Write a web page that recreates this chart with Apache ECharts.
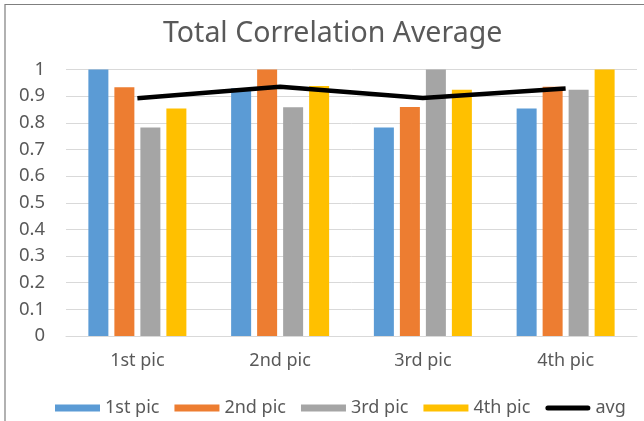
<!DOCTYPE html>
<html>
<head>
<meta charset="utf-8">
<script src="https://cdn.jsdelivr.net/npm/echarts@6/dist/echarts.min.js"></script>
<style>html,body{margin:0;padding:0;background:#fff;}#c{width:644px;height:421px;}</style>
</head>
<body>
<div id="c"></div>
<script>
const categories = ['1st pic', '2nd pic', '3rd pic', '4th pic'];
const pic1 = [1.0, 0.93, 0.782, 0.854];
const pic2 = [0.933, 1.0, 0.859, 0.935];
const pic3 = [0.782, 0.858, 1.0, 0.924];
const pic4 = [0.854, 0.938, 0.924, 1.0];
const avg = [0.892, 0.935, 0.893, 0.929];
const yTicks = [0, 0.1, 0.2, 0.3, 0.4, 0.5, 0.6, 0.7, 0.8, 0.9, 1];

const font = 'Noto Sans';
const txt = '#595959';
const chart = echarts.init(document.getElementById('c'));
const barSeries = (name, data, color) => ({
  name, type: 'bar', data, barWidth: 20, barGap: '30%',
  itemStyle: { color }
});
chart.setOption({
  animation: false,
  backgroundColor: '#fff',
  title: {
    text: 'Total Correlation Average', left: 158, top: 14,
    textStyle: { fontFamily: font, fontSize: 28.5, fontWeight: 'normal', color: txt }
  },
  graphic: [{
    type: 'polyline', shape: { points: [[5, 421], [5, 4.5], [644, 4.5]] },
    style: { stroke: '#7f7f7f', lineWidth: 1.2, fill: null }, silent: true
  }],
  grid: { left: 66, right: 7, top: 69.5, bottom: 85, containLabel: false },
  legend: {
    left: 50, top: 394, itemWidth: 45, itemHeight: 7, itemGap: 15,
    textStyle: { fontFamily: font, fontSize: 18, color: txt },
    data: [
      { name: '1st pic', icon: 'rect' },
      { name: '2nd pic', icon: 'rect' },
      { name: '3rd pic', icon: 'rect' },
      { name: '4th pic', icon: 'rect' },
      { name: 'avg', icon: 'path://M2.5,0 L42.5,0 A2.5,2.5 0 0 1 42.5,5 L2.5,5 A2.5,2.5 0 0 1 2.5,0 Z' }
    ]
  },
  xAxis: {
    type: 'category', data: categories,
    axisLine: { show: true, lineStyle: { color: '#d9d9d9' } },
    axisTick: { show: false },
    axisLabel: { fontFamily: font, fontSize: 18, color: txt, margin: 16 }
  },
  yAxis: {
    type: 'value', min: 0, max: 1, interval: 0.1,
    axisLine: { show: false }, axisTick: { show: false },
    axisLabel: {
      fontFamily: font, fontSize: 18.5, color: txt, margin: 21,
      formatter: v => { const t = yTicks.find(x => Math.abs(x - v) < 1e-9); return String(t !== undefined ? t : v); }
    },
    splitLine: { lineStyle: { color: '#d9d9d9' } }
  },
  series: [
    barSeries('1st pic', pic1, '#5B9BD5'),
    barSeries('2nd pic', pic2, '#ED7D31'),
    barSeries('3rd pic', pic3, '#A5A5A5'),
    barSeries('4th pic', pic4, '#FFC000'),
    {
      name: 'avg', type: 'line', data: avg, symbol: 'none',
      lineStyle: { color: '#000', width: 4.5 }, itemStyle: { color: '#000' }, z: 5
    }
  ]
});
</script>
</body>
</html>
